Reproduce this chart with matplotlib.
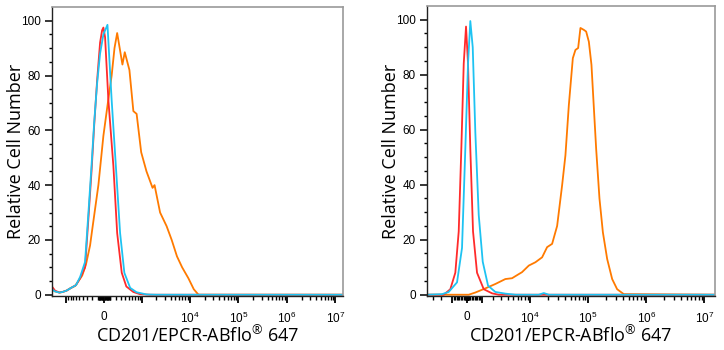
import numpy as np
import matplotlib
matplotlib.use("Agg")
import matplotlib.pyplot as plt

plt.rcParams["font.family"] = ["Liberation Sans", "DejaVu Sans"]
plt.rcParams["mathtext.fontset"] = "custom"
plt.rcParams["mathtext.rm"] = "Liberation Sans"
plt.rcParams["mathtext.default"] = "regular"

# --- histogram traces, fluorescence intensity vs relative count ---
# left panel
red_x_l = [-2000, -1727, -1400, -1200, -980, -780, -600, -475, -350, -280, -215, -165,
           -115, -65, -32, -11, 16, 70, 155, 225, 320, 430, 640, 908, 1500, 1.4e7]
red_y_l = [3, 1.5, 0.8, 1.0, 1.5, 2.5, 3.5, 6, 10, 27, 45, 62,
           78, 92, 96.5, 97.5, 94, 71, 47, 22.5, 8, 3, 1, 0.2, 0, 0]
cyan_x_l = [-2000, -1727, -1400, -1200, -980, -780, -600, -475, -350, -280, -215, -165,
            -115, -65, -11, 55, 125, 200, 284, 380, 537, 760, 1250, 2000, 1.4e7]
cyan_y_l = [2, 1.2, 0.8, 1.0, 1.5, 2.5, 3.5, 6.5, 12, 29, 47, 63,
            77, 88, 95, 98.5, 71, 47, 22.5, 8, 2.5, 0.9, 0.1, 0, 0]
orange_x_l = [-2000, -1727, -1400, -1200, -980, -780, -630, -420, -330, -243, -200, -93,
              -11, 55, 125, 175, 225, 335, 390, 515, 640, 760, 960, 1250, 1680, 1850,
              2414, 3300, 4200, 5400, 6900, 9300, 12000, 15000, 1.4e7]
orange_y_l = [2, 1.2, 0.8, 1.0, 1.5, 2.5, 3.2, 7, 11, 18, 24, 40,
              58, 69, 80, 90, 95.5, 84, 88.5, 82, 67, 66, 52, 45, 39, 40,
              30, 25, 20, 14, 10, 6, 2, 0, 0]

# right panel
red_x_r = [-3840, -1742, -1169, -789, -550, -374, -215, -65, 65, 215, 394, 668,
           1169, 1909, 2654, 1.5e7]
red_y_r = [0, 0, 2, 8, 23, 53, 84, 97.5, 84, 53, 23, 8, 2, 0.5, 0, 0]
cyan_x_r = [-3840, -1909, -1299, -668, -328, -111, 65, 215, 374, 550, 789, 1089,
            1531, 2253, 3569, 5500, 14000, 17190, 21000, 1.5e7]
cyan_y_r = [0, 0.2, 1, 4.5, 17, 53, 84, 99.5, 90, 59, 29, 12,
            3.3, 1, 0.4, 0, 0, 0.6, 0, 0]
orange_x_r = [-3840, 0, 111, 550, 1299, 2253, 3569, 4751, 6283, 7167, 9430, 10760,
              12280, 16060, 19600, 23930, 29190, 35590, 40590, 46490, 54450, 60350,
              67240, 73640, 84300, 92330, 102800, 114000, 125500, 137400, 156600,
              179300, 212500, 259100, 315700, 411600, 1.5e7]
orange_y_r = [0, 0, 0, 0.8, 2.3, 3.9, 5.7, 6, 7.5, 8.2, 10.6, 11.2,
              11.8, 13.6, 17.3, 18.5, 25, 39.8, 50.7, 69, 86, 89,
              89.7, 97, 96.3, 95.7, 92, 83.6, 67.8, 53, 35,
              22.7, 13, 5.7, 2, 0.2, 0]

major_ticks = [-1000, 0, 1000, 1e4, 1e5, 1e6, 1e7]
major_labels = ["", "0", "", "$10^4$", "$10^5$", "$10^6$", "$10^7$"]

RED, CYAN, ORANGE = "#ff2b2b", "#1ec3f2", "#ff7a00"


def biex(c):
    # arcsinh display: linear around zero, log decades further out
    w = 2.0 * c
    fwd = lambda x: np.arcsinh(np.asarray(x, dtype=float) / w) / np.log(10)
    inv = lambda u: w * np.sinh(np.asarray(u, dtype=float) * np.log(10))
    return fwd, inv


def setup(ax, c, xmin, xmax):
    ax.set_xscale("function", functions=biex(c))
    ax.set_xlim(xmin, xmax)
    ax.set_ylim(-0.5, 105)

    minors = []
    for k in range(1, 7):
        for m in range(1, 10):
            for v in (m * 10 ** k, -m * 10 ** k):
                if xmin < v < xmax and v not in major_ticks:
                    minors.append(v)
    ax.set_xticks(major_ticks, major_labels, fontsize=8.5)
    ax.set_xticks(minors, minor=True)
    ax.set_yticks([0, 20, 40, 60, 80, 100])
    ax.set_yticks(np.arange(0, 105, 5), minor=True)
    ax.tick_params(axis="y", labelsize=8.5, length=5, width=1.1, pad=3)
    ax.tick_params(axis="y", which="minor", length=2.5, width=1.0)
    ax.tick_params(axis="x", length=5, width=1.3, pad=5.5)
    ax.tick_params(axis="x", which="minor", length=3, width=1.0)

    for side in ("top", "right"):
        ax.spines[side].set_color("#9a9a9a")
        ax.spines[side].set_linewidth(1.2)
    for side in ("left", "bottom"):
        ax.spines[side].set_color("#222222")
        ax.spines[side].set_linewidth(1.0)

    ax.set_ylabel("Relative Cell Number", family=["Open Sans", "DejaVu Sans"],
                  fontsize=13, labelpad=-3)
    ax.set_xlabel("CD201/EPCR-ABflo$^{®}$ 647", family=["Open Sans", "DejaVu Sans"],
                  fontsize=13, labelpad=0)


fig = plt.figure(figsize=(7.24, 3.5), dpi=100)
ax1 = fig.add_axes([0.0718, 0.154, 0.402, 0.826])
ax2 = fig.add_axes([0.5898, 0.154, 0.398, 0.829])

setup(ax1, 170, -2000, 1.43e7)
setup(ax2, 820, -3840, 1.54e7)

lw = 1.3
ax1.plot(orange_x_l, orange_y_l, color=ORANGE, lw=lw)
ax1.plot(red_x_l, red_y_l, color=RED, lw=lw)
ax1.plot(cyan_x_l, cyan_y_l, color=CYAN, lw=lw)

ax2.plot(orange_x_r, orange_y_r, color=ORANGE, lw=lw)
ax2.plot(red_x_r, red_y_r, color=RED, lw=lw)
ax2.plot(cyan_x_r, cyan_y_r, color=CYAN, lw=lw)

fig.savefig("out.png", dpi=100)
